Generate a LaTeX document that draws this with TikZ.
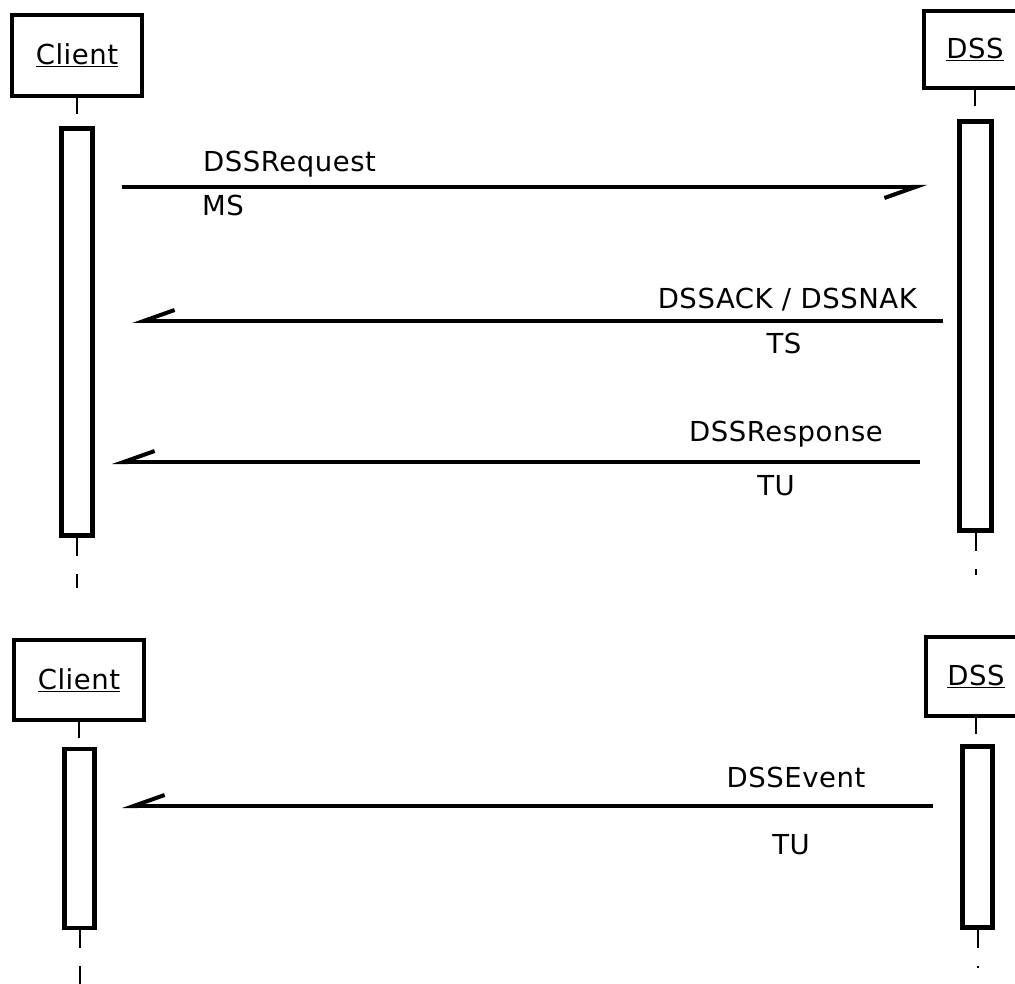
\documentclass[tikz,border=0pt]{standalone}
\usepackage{fontspec}
\setmainfont{DejaVu Sans}[LetterSpace=2]
\usetikzlibrary{arrows.meta}

\newcommand{\actorname}[1]{\underline{#1}}

\begin{document}
\begin{tikzpicture}[
  x=1pt, y=-1pt,
  font=\fontsize{27.5}{32}\selectfont,
  actor/.style={draw, line width=4.2pt, inner sep=0pt},
  actbar/.style={draw, fill=white, line width=4.2pt, inner sep=0pt},
  stub/.style={line width=2pt, dash pattern=on 16pt off 40pt},
  life/.style={line width=2pt, dash pattern=on 18pt off 18pt},
  msg/.style={line width=4pt, -{Straight Barb[harpoon, swap, length=31pt, width=22pt]}},
  lbl/.style={inner sep=0pt},
]
\useasboundingbox (0,0) rectangle (1015,984);
% first exchange: lifelines
\node[actor, minimum width=130.6pt, minimum height=81.6pt] (client1) at (77,55.5) {\actorname{Client}};
\node[actor, minimum width=102.6pt, minimum height=77.6pt] (dss1) at (975,49.5) {\actorname{DSS}};
\node[actbar, minimum width=31pt, minimum height=407pt] (cbar1) at (77,332) {};
\node[actbar, minimum width=32pt, minimum height=409pt] (dbar1) at (975.5,326) {};
\coordinate (cend1) at (77,588);
\coordinate (dend1) at (975.5,575);
\draw[stub] (client1.south) -- (cbar1.north);
\draw[stub] (dss1.south) -- (dss1.south |- dbar1.north);
\draw[life] (cbar1.south) -- (cend1);
\draw[life] (dbar1.south) -- (dend1);
% first exchange: messages
\coordinate (req-a) at (122,187);
\coordinate (req-b) at (927,187);
\coordinate (ack-a) at (943,321);
\coordinate (ack-b) at (132,321);
\coordinate (rsp-a) at (920,462);
\coordinate (rsp-b) at (112,462);
\draw[msg] (req-a) -- (req-b);
\draw[msg] (ack-a) -- (ack-b);
\draw[msg] (rsp-a) -- (rsp-b);
\node[lbl, anchor=base west] (req) at (203,172) {DSSRequest};
\node[lbl, anchor=base west] (reqmode) at (202,216) {MS};
\node[lbl, anchor=base east] (ack) at (917,309) {DSSACK / DSSNAK};
\node[lbl, anchor=base] (ackmode) at (784,353) {TS};
\node[lbl, anchor=base east] (rsp) at (883,441) {DSSResponse};
\node[lbl, anchor=base] (rspmode) at (776,495) {TU};
% second exchange: lifelines
\node[actor, minimum width=130.6pt, minimum height=80.6pt] (client2) at (79,680) {\actorname{Client}};
\node[actor, minimum width=100.6pt, minimum height=79.6pt] (dss2) at (976,676.5) {\actorname{DSS}};
\node[actbar, minimum width=30pt, minimum height=179pt] (cbar2) at (79.5,838.5) {};
\node[actbar, minimum width=30pt, minimum height=181pt] (dbar2) at (977.5,837) {};
\coordinate (cend2) at (79.5,995);
\coordinate (dend2) at (977.5,968);
\draw[stub] (client2.south) -- (client2.south |- cbar2.north);
\draw[stub] (dss2.south) -- (dss2.south |- dbar2.north);
\draw[life] (cbar2.south) -- (cend2);
\draw[life] (dbar2.south) -- (dend2);
% second exchange: event
\coordinate (evt-a) at (933,806);
\coordinate (evt-b) at (122,806);
\draw[msg] (evt-a) -- (evt-b);
\node[lbl, anchor=base] (evt) at (796,787) {DSSEvent};
\node[lbl, anchor=base] (evtmode) at (791,854) {TU};
\end{tikzpicture}
\end{document}
